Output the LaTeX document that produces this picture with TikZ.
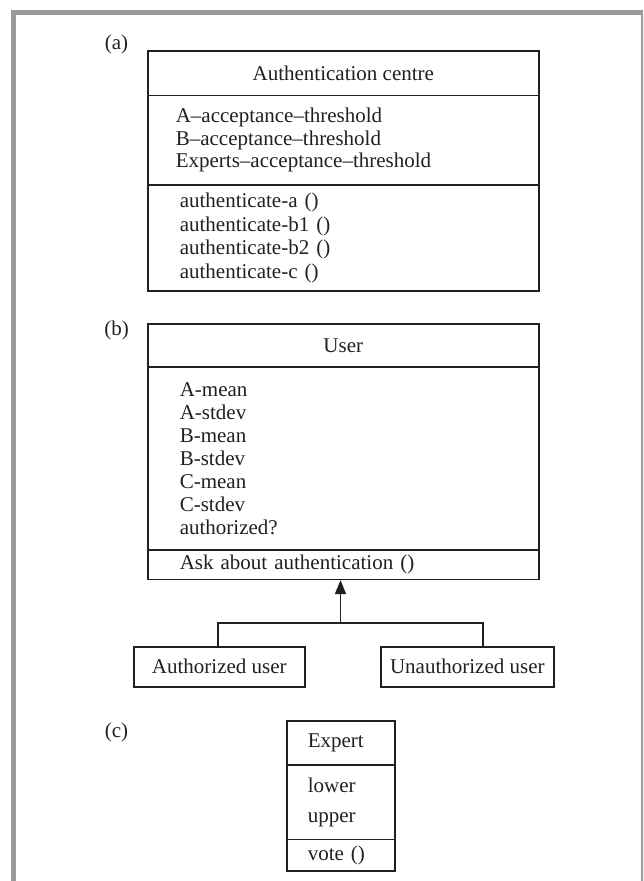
\documentclass[tikz,border=0pt]{standalone}
\usepackage{fontspec}
\setmainfont{Liberation Serif}
\usetikzlibrary{arrows.meta}
\definecolor{framegray}{RGB}{155,155,155}
\definecolor{ink}{RGB}{35,31,32}
\begin{document}
\begin{tikzpicture}[x=1pt,y=-1pt,
  comp/.style={draw=ink, text=ink, line width=1.6pt, inner sep=0pt, anchor=north west,
    font=\fontsize{21}{23}\selectfont},
  ctitle/.style={comp, align=center},
  clist/.style n args={3}{comp, minimum width=#1pt, text width=#1pt-2*#2pt,
    inner xsep=#2pt, align=left, minimum height=#3pt},
  lbl/.style={text=ink, font=\fontsize{21}{23}\selectfont, inner sep=0pt},
  conn/.style={draw=ink, line width=1.5pt}
]
\useasboundingbox (0,0) rectangle (643,881);
\clip (0,0) rectangle (643,881);
\fill[white] (0,0) rectangle (643,881);
% outer frame
\draw[framegray, line width=5pt] (13.5,900) -- (13.5,12.5) -- (643.5,12.5) -- (643.5,900);

% (a) Authentication centre
\node[lbl] (la) at (116.5,44) {(a)};
\node[ctitle, minimum width=391pt, minimum height=44.5pt] (A1) at (147,50) {Authentication centre};
\node[clist={391}{28}{89.5}, font=\fontsize{21}{22.5}\selectfont] (A2) at (147,94.5)
  {A–acceptance–threshold\\B–acceptance–threshold\\Experts–acceptance–threshold};
\node[clist={391}{32}{106}, font=\fontsize{21}{23.5}\selectfont] (A3) at (147,184)
  {authenticate-a ()\\authenticate-b1 ()\\authenticate-b2 ()\\authenticate-c ()};

% (b) User
\node[lbl] (lb) at (116.5,330) {(b)};
\node[ctitle, minimum width=391pt, minimum height=43pt] (B1) at (147,323) {User};
\node[clist={391}{32}{183}] (B2) at (147,366)
  {A-mean\\A-stdev\\B-mean\\B-stdev\\C-mean\\C-stdev\\authorized?};
\node[clist={391}{32}{29.5}] (B3) at (147,549) {Ask about authentication ()};

\node[ctitle, minimum width=171pt, minimum height=40pt] (auth) at (133,646) {Authorized user};
\node[ctitle, minimum width=173pt, minimum height=40pt] (unauth) at (380,646) {Unauthorized user};

\coordinate (j) at (340.5,623);
\draw[conn] ([xshift=-1.5pt]auth.north) |- (j) -| ([xshift=15.5pt]unauth.north);
\draw[conn, fill=ink, -{Triangle[length=14pt,width=11pt]}] (j) -- (j |- B3.south);

% (c) Expert
\node[lbl] (lc) at (116.5,732) {(c)};
\node[clist={108}{21}{44}] (E1) at (286,720) {Expert};
\node[clist={108}{21}{74.5}, font=\fontsize{21}{30}\selectfont] (E2) at (286,764) {lower\\upper};
\node[clist={108}{21}{31.5}] (E3) at (286,838.5) {vote ()};
\end{tikzpicture}
\end{document}
